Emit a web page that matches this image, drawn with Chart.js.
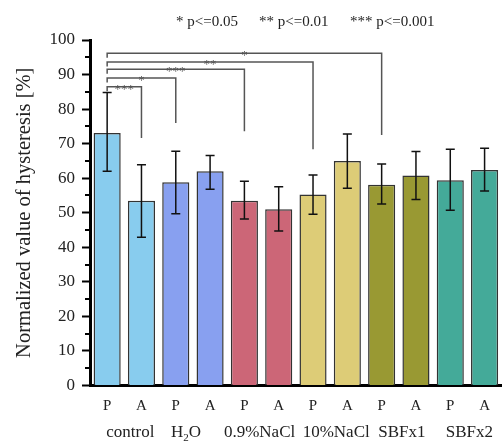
<!DOCTYPE html>
<html>
<head>
<meta charset="utf-8">
<script src="https://cdn.jsdelivr.net/npm/chart.js@4/dist/chart.umd.min.js"></script>
<style>
  html, body { margin: 0; padding: 0; background: #fff; }
  #wrap { width: 502px; height: 443px; position: relative; }
</style>
</head>
<body>
<div id="wrap"><canvas id="grafico"></canvas></div>
<script>
// dados
const grupos = ["control", "H_2O", "0.9%NaCl", "10%NaCl", "SBFx1", "SBFx2"];
const rotulos = ["P", "A", "P", "A", "P", "A", "P", "A", "P", "A", "P", "A"];
const medias = [73.1, 53.5, 58.8, 62.0, 53.5, 51.0, 55.3, 65.0, 58.1, 60.8, 59.4, 62.4];
const erroSup = [84.8, 63.9, 67.8, 66.6, 59.1, 57.5, 60.9, 72.8, 64.1, 67.7, 68.4, 68.7];
const erroInf = [62.0, 42.9, 49.7, 56.8, 48.2, 44.7, 49.6, 57.1, 52.5, 53.8, 50.7, 56.3];
const coresGrupo = ["#88ccee", "#88a0f0", "#cc6677", "#ddcc77", "#999933", "#44aa99"];

// comparações com o controle (P)
const sigAlvo = [1, 2, 4, 6, 8];
const sigNivel = [86.5, 89.0, 91.5, 93.6, 96.2];
const sigFim = [71.6, 76.0, 73.6, 68.4, 72.5];
const sigTexto = ["***", "*", "***", "**", "*"];
const legendaSig = ["* p<=0.05", "** p<=0.01", "*** p<=0.001"];

const fonte = "'Liberation Serif', 'DejaVu Serif', serif";
const corTexto = "#222";
// deslocamento dos nomes de grupo em relação ao centro do par
const ajusteGrupo = [6, -7, -2, 6, 3, 2];

const coresBarra = rotulos.map((r, i) => coresGrupo[Math.floor(i / 2)]);

function textoSub(ctx, txt, x, y, tam) {
  // desenha "H_2O" com subscrito, centralizado em x
  const partes = txt.split("_");
  ctx.font = `${tam}px ${fonte}`;
  if (partes.length === 1) {
    ctx.textAlign = "center";
    ctx.fillText(txt, x, y);
    return;
  }
  const a = partes[0], s = partes[1].charAt(0), b = partes[1].slice(1);
  const wa = ctx.measureText(a).width, wb = ctx.measureText(b).width;
  ctx.font = `${Math.round(tam * 0.65)}px ${fonte}`;
  const ws = ctx.measureText(s).width;
  let x0 = x - (wa + ws + wb) / 2;
  ctx.textAlign = "left";
  ctx.font = `${tam}px ${fonte}`;
  ctx.fillText(a, x0, y);
  ctx.font = `${Math.round(tam * 0.65)}px ${fonte}`;
  ctx.fillText(s, x0 + wa, y + tam * 0.25);
  ctx.font = `${tam}px ${fonte}`;
  ctx.fillText(b, x0 + wa + ws, y);
}

const anotacoes = {
  id: "anotacoes",
  afterDatasetsDraw(chart) {
    const ctx = chart.ctx;
    const xs = chart.scales.x, ys = chart.scales.y;
    ctx.save();

    // barras de erro
    ctx.strokeStyle = "#111";
    ctx.lineWidth = 1.5;
    medias.forEach((m, i) => {
      const x = xs.getPixelForValue(i);
      const y1 = ys.getPixelForValue(erroSup[i]);
      const y2 = ys.getPixelForValue(erroInf[i]);
      ctx.beginPath();
      ctx.moveTo(x, y1); ctx.lineTo(x, y2);
      ctx.moveTo(x - 4.5, y1); ctx.lineTo(x + 4.5, y1);
      ctx.moveTo(x - 4.5, y2); ctx.lineTo(x + 4.5, y2);
      ctx.stroke();
    });

    // colchetes de significância
    ctx.strokeStyle = "#555";
    ctx.lineWidth = 1.5;
    ctx.fillStyle = "#555";
    ctx.textAlign = "center";
    ctx.textBaseline = "alphabetic";
    ctx.font = `13px ${fonte}`;
    const x0 = xs.getPixelForValue(0);
    sigAlvo.forEach((alvo, k) => {
      const x1 = xs.getPixelForValue(alvo);
      const yN = ys.getPixelForValue(sigNivel[k]);
      ctx.beginPath();
      ctx.moveTo(x0, yN + 4.5);
      ctx.lineTo(x0, yN);
      ctx.lineTo(x1, yN);
      ctx.lineTo(x1, ys.getPixelForValue(sigFim[k]));
      ctx.stroke();
      ctx.fillText(sigTexto[k], (x0 + x1) / 2, yN + 6);
    });

    // marcas menores do eixo y
    ctx.strokeStyle = "#000";
    ctx.lineWidth = 2;
    for (let v = 5; v < 100; v += 10) {
      const y = Math.round(ys.getPixelForValue(v));
      ctx.beginPath();
      ctx.moveTo(xs.left - 5, y);
      ctx.lineTo(xs.left, y);
      ctx.stroke();
    }
    ctx.restore();
  },
  afterDraw(chart) {
    const ctx = chart.ctx;
    const xs = chart.scales.x;
    ctx.save();
    ctx.fillStyle = corTexto;
    ctx.textBaseline = "alphabetic";
    grupos.forEach((g, k) => {
      const x = (xs.getPixelForValue(2 * k) + xs.getPixelForValue(2 * k + 1)) / 2 + ajusteGrupo[k];
      textoSub(ctx, g, x, 437, 17);
    });
    // legenda dos níveis de p
    ctx.font = `15px ${fonte}`;
    ctx.textAlign = "left";
    const posLeg = [176, 259, 350];
    legendaSig.forEach((t, i) => ctx.fillText(t, posLeg[i], 26));
    ctx.restore();
  }
};

new Chart(document.getElementById("grafico"), {
  type: "bar",
  data: {
    labels: rotulos,
    datasets: [{
      data: medias,
      backgroundColor: coresBarra,
      borderColor: "#333",
      borderWidth: 1.5,
      categoryPercentage: 1,
      barPercentage: 0.79
    }]
  },
  options: {
    responsive: true,
    maintainAspectRatio: false,
    animation: false,
    layout: { padding: { top: 40, right: 0, left: 0, bottom: 0 } },
    plugins: { legend: { display: false }, tooltip: { enabled: false } },
    scales: {
      x: {
        afterFit: (s) => { s.height = 57.5; },
        grid: { display: false, drawTicks: false },
        border: { display: true, color: "#000", width: 3 },
        ticks: { color: corTexto, padding: 12, font: { family: fonte, size: 15 } }
      },
      y: {
        min: 0,
        max: 100,
        afterFit: (s) => { s.width = 90; },
        ticks: { stepSize: 10, color: corTexto, padding: 7, font: { family: fonte, size: 17 } },
        grid: { drawOnChartArea: false, tickLength: 8, tickColor: "#000", tickWidth: 2 },
        border: { display: true, color: "#000", width: 3 },
        title: {
          display: true,
          text: "Normalized value of hysteresis [%]",
          color: corTexto,
          padding: { top: 12, bottom: 0 },
          font: { family: fonte, size: 20.5 }
        }
      }
    }
  },
  plugins: [anotacoes]
});
</script>
</body>
</html>
